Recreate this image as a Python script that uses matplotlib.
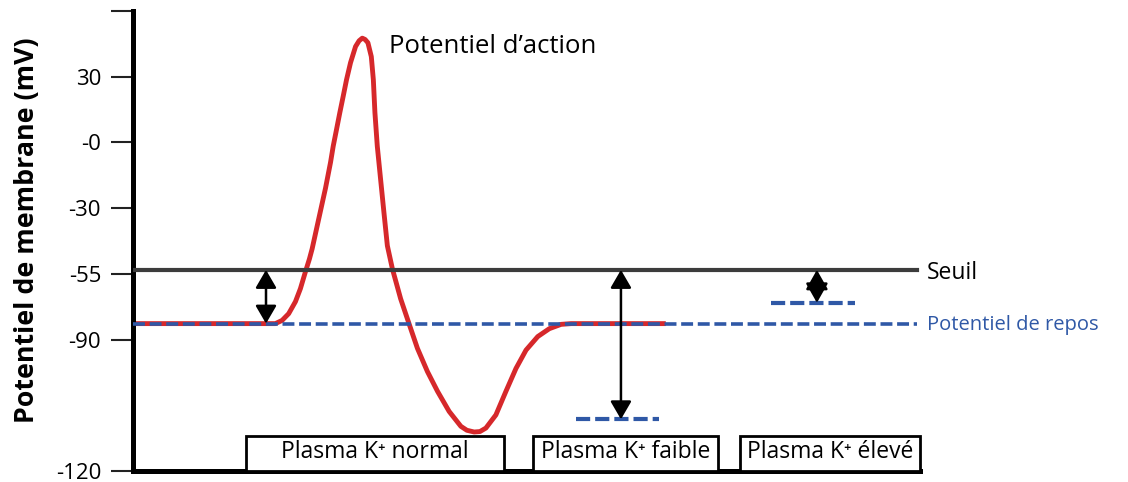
import numpy as np
import matplotlib
matplotlib.use("Agg")
import matplotlib.pyplot as plt
from matplotlib.patches import Rectangle

plt.rcParams['font.family'] = ['Open Sans', 'DejaVu Sans']

# y axis is schematic: each tick is one step, -120 -> -90 is two steps
tick_mv = [-120, -90, -55, -30, 0, 30, 60]
tick_level = [0, 2, 3, 4, 5, 6, 7]
tick_labels = ['-120', '-90', '-55', '-30', '-0', '30', '']

seuil = -53.5
repos = -81.5
repos_faible = -108.2
repos_eleve = -70.4
box_top = -112.0

# potentiel d'action (temps arbitraire 0..100, mV)
t = [0, 18.09, 18.94, 19.78, 20.64, 21.27, 21.91, 22.42, 22.76, 23.82, 24.46,
     25.10, 25.44, 25.86, 26.28, 26.71, 27.13, 27.64, 28.28, 28.73, 29.13, 29.49,
     29.85, 30.28, 30.54, 30.74, 31.04, 31.46, 31.89, 32.32, 32.96, 34.01, 35.07,
     36.14, 37.41, 38.69, 40.17, 41.66, 42.42, 43.35, 44.08, 44.84, 46.11, 47.39,
     48.66, 49.94, 51.43, 52.90, 54.39, 55.67, 67.39]
v = [-81.5, -81.5, -79.8, -76.2, -69.8, -62.9, -54.2, -49.3, -45.5, -31.1, -20.9,
     -9.1, -1.7, 5.9, 13.6, 21.1, 28.6, 36.4, 43.8, 46.4, 47.6, 47.0, 45.5, 39.2,
     28.6, 13.6, -1.7, -16.8, -31.8, -44.3, -53.1, -68.3, -81.5, -92.0, -97.3,
     -101.8, -106.4, -109.8, -110.7, -111.1, -111.0, -110.2, -107.2, -101.8,
     -96.6, -92.4, -88.4, -84.2, -81.9, -81.5, -81.5]

arrow_x = [16.9, 62.0]
arrow_to = [repos, repos_faible]
eleve_x = 86.9
eleve_mid = -61.6

boxes = [(14.4, 47.1, 'Plasma K\u207a normal'),
         (50.8, 74.3, 'Plasma K\u207a faible'),
         (77.1, 100.0, 'Plasma K\u207a élevé')]

red = '#d6282b'
blue = '#2f58a6'
grey = '#3c3c3c'

fig = plt.figure(figsize=(11.28, 4.82), dpi=100)
ax = fig.add_axes([133/1128, 11/482, (920-133)/1128, (471-11)/482])

fwd = lambda x: np.interp(x, tick_mv, tick_level)
inv = lambda x: np.interp(x, tick_level, tick_mv)
ax.set_yscale('function', functions=(fwd, inv))
ax.set_ylim(-120, 60)
ax.set_xlim(0, 100)

ax.plot(t, v, color=red, lw=3.5, zorder=2, solid_joinstyle='round')
ax.plot([0, 99.6], [seuil, seuil], color=grey, lw=3, zorder=3)
ax.plot([0, 99.6], [repos, repos], color=blue, lw=2.6, ls=(0, (3.3, 1.3)), zorder=3)
ax.plot([56.3, 66.8], [repos_faible, repos_faible], color=blue, lw=3, ls=(0, (3.4, 1.2)), zorder=3)
ax.plot([81.1, 91.7], [repos_eleve, repos_eleve], color=blue, lw=3, ls=(0, (3.4, 1.2)), zorder=3)

head = dict(color='black', lw=1.8, mutation_scale=20, shrinkA=0, shrinkB=0)
for x, y in zip(arrow_x, arrow_to):
    ax.annotate('', xy=(x, y), xytext=(x, seuil),
                arrowprops=dict(arrowstyle='<|-|>,head_length=0.55,head_width=0.32', **head),
                zorder=4)
# short one: two heads meeting (diamond)
for y in [seuil, repos_eleve]:
    ax.annotate('', xy=(eleve_x, y), xytext=(eleve_x, eleve_mid),
                arrowprops=dict(arrowstyle='-|>,head_length=0.6,head_width=0.34', **head),
                zorder=4)

for x0, x1, label in boxes:
    ax.add_patch(Rectangle((x0, -120), x1 - x0, box_top + 120, facecolor='white',
                           edgecolor='black', lw=2, zorder=4, clip_on=False))
    ax.text((x0 + x1) / 2, (box_top - 120) / 2 + 0.4, label, ha='center', va='center',
            fontsize=16.5, zorder=5)

ax.text(100.9, seuil - 1.2, 'Seuil', fontsize=16.5, va='center', ha='left', clip_on=False)
ax.text(100.9, repos - 0.8, 'Potentiel de repos', fontsize=14.5, va='center', ha='left',
        color=blue, clip_on=False)
ax.text(32.5, 43.6, 'Potentiel d\u2019action', fontsize=18.5, va='center', ha='left')

ax.set_yticks(tick_mv)
ax.set_yticklabels(tick_labels)
ax.set_xticks([])
ax.tick_params(axis='y', length=16, width=1.5, pad=7, labelsize=16, color='#222222')
for s in ['top', 'right']:
    ax.spines[s].set_visible(False)
ax.spines['left'].set_linewidth(3.6)
ax.spines['bottom'].set_linewidth(3.6)

fig.text(27/1128, (482-230)/482, 'Potentiel de membrane (mV)', rotation=90,
         ha='center', va='center', fontsize=19.3, fontweight='bold')

fig.savefig('out.png', dpi=100)
